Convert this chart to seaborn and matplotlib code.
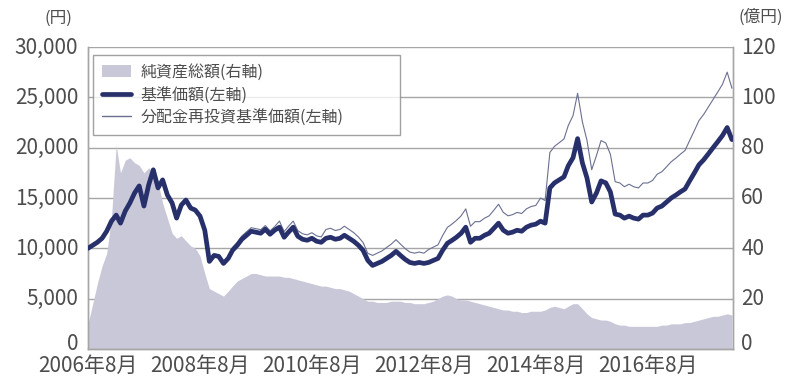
import matplotlib
matplotlib.use("Agg")
import matplotlib.pyplot as plt
import matplotlib.patches as mpatches
from matplotlib.lines import Line2D
from matplotlib.transforms import ScaledTranslation
import seaborn as sns
import pandas as pd
import numpy as np

# ---- data (monthly, 2006-08 .. 2018-02) ----
start_month = "2006-08-01"
base_price = [
    10000, 10300, 10600, 11000, 11700, 12700, 13300, 12500, 13700, 14500,
    15500, 16200, 14200, 16300, 17800, 16000, 16800, 15300, 14500, 13000,
    14300, 14800, 14000, 13800, 13200, 11800, 8700, 9300, 9200, 8500,
    9000, 9800, 10300, 10900, 11300, 11700, 11600, 11500, 11900, 11400,
    11800, 12100, 11100, 11600, 12100, 11200, 10900, 10800, 11000, 10700,
    10600, 11000, 11100, 10900, 11000, 11300, 11000, 10700, 10300, 9800,
    8800, 8300, 8500, 8700, 9000, 9300, 9700, 9300, 8900, 8600,
    8500, 8600, 8500, 8600, 8800, 9000, 9800, 10500, 10800, 11100,
    11500, 12100, 10600, 11000, 11000, 11300, 11500, 12000, 12500, 11800,
    11500, 11600, 11800, 11700, 12100, 12300, 12400, 12700, 12500, 16000,
    16500, 16800, 17100, 18200, 19000, 20900, 18500, 17000, 14600, 15500,
    16700, 16500, 15600, 13400, 13300, 13000, 13200, 13000, 12900, 13300,
    13300, 13500, 14000, 14200, 14600, 15000, 15300, 15600, 15900, 16700,
    17500, 18300, 18800, 19400, 20000, 20600, 21200, 22000, 20800,
]
reinvested_price = [
    10000, 10300, 10600, 11000, 11700, 12700, 13300, 12500, 13700, 14500,
    15500, 16200, 14200, 16300, 17800, 16000, 16800, 15300, 14500, 13000,
    14300, 14950, 14140, 13940, 13330, 11920, 8790, 9390, 9290, 8590,
    9090, 10090, 10610, 11230, 11640, 12050, 11950, 11850, 12260, 11740,
    12150, 12710, 11660, 12180, 12710, 11760, 11450, 11340, 11550, 11240,
    11130, 11880, 11990, 11770, 11880, 12200, 11880, 11560, 11120, 10580,
    9500, 9300, 9520, 9740, 10080, 10420, 10860, 10420, 9970, 9630,
    9520, 9630, 9520, 9890, 10120, 10350, 11270, 12080, 12420, 12770,
    13230, 13920, 12190, 12650, 12650, 13000, 13230, 13800, 14380, 13570,
    13230, 13340, 13570, 13460, 13920, 14150, 14260, 14990, 14750, 19520,
    20130, 20500, 20860, 22200, 23180, 25400, 22570, 20740, 17810, 19220,
    20710, 20460, 19340, 16620, 16490, 16120, 16370, 16120, 16000, 16490,
    16490, 16740, 17360, 17610, 18100, 18600, 18970, 19340, 19720, 20710,
    21700, 22690, 23310, 24060, 24800, 25540, 26290, 27500, 25900,
]
net_assets = [
    10, 18, 26, 33, 38, 52, 81, 70, 75, 76,
    74, 73, 70, 72, 70, 66, 58, 52, 46, 44,
    45, 43, 41, 40, 37, 30, 24, 23, 22, 21,
    23, 25, 27, 28, 29, 30, 30, 29.5, 29, 29,
    29, 29, 28.5, 28.5, 28, 27.5, 27, 26.5, 26, 25.5,
    25, 25, 24.5, 24, 24, 23.5, 23, 22, 21, 20,
    19, 19, 18.5, 18.5, 18.5, 19, 19, 19, 18.5, 18.5,
    18, 18, 18, 18.5, 19, 20, 21, 21.5, 21, 20,
    19.5, 19.5, 19, 18.5, 18, 17.5, 17, 16.5, 16, 15.5,
    15.5, 15, 15, 14.5, 14.5, 15, 15, 15, 15.5, 16.5,
    17, 16.5, 16, 17, 18, 18, 16, 14, 12.5, 12,
    11.5, 11.5, 11, 10, 9.5, 9.5, 9, 9, 9, 9,
    9, 9, 9, 9.5, 9.5, 10, 10, 10, 10.5, 10.5,
    11, 11.5, 12, 12.5, 13, 13, 13.5, 14, 13.5,
]
left_ticks = [0, 5000, 10000, 15000, 20000, 25000, 30000]
right_ticks = [0, 20, 40, 60, 80, 100, 120]
x_tick_dates = ["2006-08-01", "2008-08-01", "2010-08-01", "2012-08-01",
                "2014-08-01", "2016-08-01"]
x_tick_labels = ["2006年8月", "2008年8月", "2010年8月", "2012年8月",
                 "2014年8月", "2016年8月"]
labels = ["純資産総額(右軸)", "基準価額(左軸)", "分配金再投資基準価額(左軸)"]

dates = pd.date_range(start_month, periods=len(base_price), freq="MS")
df = pd.DataFrame({"date": dates, "base": base_price,
                   "reinv": reinvested_price, "assets": net_assets})

# ---- style ----
sns.set_theme(style="white")
plt.rcParams["font.family"] = ["Noto Sans CJK JP", "DejaVu Sans"]

AREA = "#c8c8d9"
NAVY = "#27306b"
THIN = "#6a7090"
GRID = "#a6a6a6"
TXT = "#4d4d4d"
TICK_FS = 15

W, H = 792, 378
fig = plt.figure(figsize=(W / 100, H / 100), dpi=100)
l, r, t, b = 88, 733, 47, 349
ax2 = fig.add_axes([l / W, 1 - b / H, (r - l) / W, (b - t) / H])
ax = ax2.twinx()

# area (right axis) with grid behind it
ax2.fill_between(df["date"], 0, df["assets"], color=AREA, lw=0, zorder=2)
ax2.set_ylim(0, 120)
ax2.set_yticks(right_ticks)
ax2.grid(axis="y", color=GRID, lw=1.0, zorder=0)
ax2.set_axisbelow(True)

# lines (left axis) on top
sns.lineplot(data=df, x="date", y="reinv", ax=ax, color=THIN, lw=0.8, zorder=3)
sns.lineplot(data=df, x="date", y="base", ax=ax, color=NAVY, lw=3.4, zorder=4)
ax.set_ylim(0, 30000)
ax.set_yticks(left_ticks)
ax.set_xlim(pd.Timestamp("2006-08-01"), pd.Timestamp("2018-02-08"))
ax.set_xlabel("")
ax.set_ylabel("")

ax.yaxis.tick_left()
ax2.yaxis.tick_right()
ax.set_yticklabels([f"{v:,}" for v in left_ticks])
ax2.set_yticklabels([str(v) for v in right_ticks])
ax.tick_params(axis="y", length=0, pad=7, labelsize=TICK_FS, labelcolor=TXT)
ax2.tick_params(axis="y", length=0, pad=6, labelsize=TICK_FS, labelcolor=TXT)
off = ScaledTranslation(0, 2 / 100, fig.dpi_scale_trans)
off0 = ScaledTranslation(0, 8 / 100, fig.dpi_scale_trans)
for a in (ax, ax2):
    labs = a.get_yticklabels()
    for i, lab in enumerate(labs):
        lab.set_transform(lab.get_transform() + (off0 if i == 0 else off))

xt = pd.to_datetime(x_tick_dates)
for a in (ax, ax2):
    a.set_xticks(xt)
ax2.set_xticklabels(x_tick_labels)
ax.tick_params(axis="x", labelbottom=False, length=0)
ax2.tick_params(axis="x", direction="in", length=5, width=1, color=GRID,
                labelsize=TICK_FS, labelcolor=TXT, pad=4)

for a in (ax, ax2):
    for s in a.spines.values():
        s.set_color(GRID)
        s.set_linewidth(1.0)
    a.spines["top"].set_visible(False)
ax.set_zorder(ax2.get_zorder() + 1)
ax.patch.set_visible(False)

# unit labels
fig.text(72 / W, 1 - 18 / H, "(円)", ha="right", va="center", fontsize=12, color=TXT)
fig.text(738 / W, 1 - 17 / H, "(億円)", ha="left", va="center", fontsize=12, color=TXT)

# legend
handles = [mpatches.Patch(facecolor=AREA, edgecolor="none"),
           Line2D([], [], color=NAVY, lw=3.4),
           Line2D([], [], color=THIN, lw=1.0)]
leg = fig.legend(handles, labels, loc="upper left",
                 bbox_to_anchor=(93 / W, 1 - 135 / H, (400 - 93) / W, 80 / H),
                 mode="expand", borderaxespad=0, fontsize=11.5,
                 frameon=True, fancybox=False, handlelength=1.8,
                 handleheight=0.8, handletextpad=0.6, labelspacing=0.35,
                 borderpad=0.55, labelcolor=TXT)
leg.get_frame().set_edgecolor("#8a8a8a")
leg.get_frame().set_linewidth(1.0)

fig.savefig("out.png", dpi=100)
